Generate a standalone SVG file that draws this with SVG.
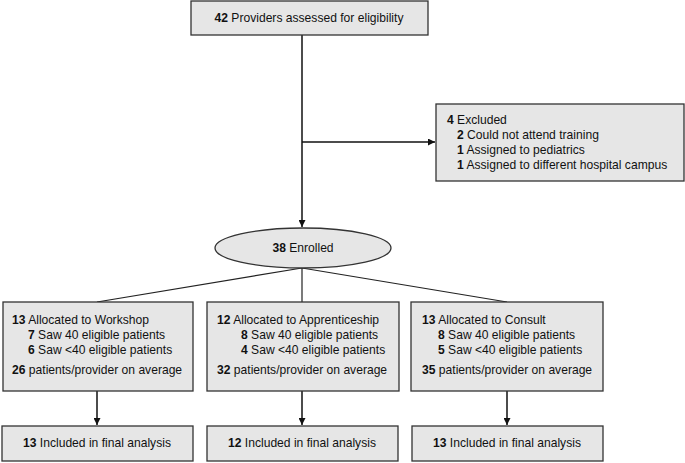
<svg xmlns="http://www.w3.org/2000/svg" width="685" height="463" viewBox="0 0 685 463">
<style>
.box{fill:#e6e6e6;stroke:#333;stroke-width:1.3}
.ln{fill:none;stroke:#222;stroke-width:1.2}
.arr{fill:none;stroke:#111;stroke-width:1.5}
text{font-family:"Liberation Sans",Arial,sans-serif;font-size:12.1px;fill:#111}
.b{font-weight:bold}
.c{text-anchor:middle}
</style>
<defs>
<marker id="ah" viewBox="0 0 10 10" refX="10" refY="5" markerWidth="7" markerHeight="7" markerUnits="userSpaceOnUse" orient="auto">
<path d="M0,0 L10,5 L0,10 z" fill="#111"/>
</marker>
</defs>
<rect width="685" height="463" fill="#fff"/>
<g id="connectors">
<line class="arr" x1="302" y1="35" x2="302" y2="227" marker-end="url(#ah)"/>
<line class="arr" x1="302" y1="142" x2="435" y2="142" marker-end="url(#ah)"/>
<line class="ln" x1="302" y1="268" x2="97" y2="302"/>
<line class="ln" x1="302" y1="268" x2="302" y2="302"/>
<line class="ln" x1="302" y1="268" x2="507" y2="302"/>
<line class="arr" x1="97" y1="391" x2="97" y2="425" marker-end="url(#ah)"/>
<line class="arr" x1="302" y1="391" x2="302" y2="425" marker-end="url(#ah)"/>
<line class="arr" x1="507" y1="391" x2="507" y2="425" marker-end="url(#ah)"/>
</g>
<g id="assessed">
<rect class="box" x="191" y="1" width="237" height="34"/>
<text x="309" y="22" class="c"><tspan class="b">42</tspan> Providers assessed for eligibility</text>
</g>
<g id="excluded">
<rect class="box" x="436" y="104" width="248" height="77"/>
<text x="447" y="124"><tspan class="b">4</tspan> Excluded</text>
<text x="457" y="139"><tspan class="b">2</tspan> Could not attend training</text>
<text x="457" y="154"><tspan class="b">1</tspan> Assigned to pediatrics</text>
<text x="457" y="169"><tspan class="b">1</tspan> Assigned to different hospital campus</text>
</g>
<g id="enrolled">
<ellipse class="box" cx="303" cy="248" rx="88" ry="20"/>
<text x="303" y="252" class="c"><tspan class="b">38</tspan> Enrolled</text>
</g>
<g id="workshop">
<rect class="box" x="3" y="302" width="190" height="89"/>
<text x="12" y="324"><tspan class="b">13</tspan> Allocated to Workshop</text>
<text x="28" y="339"><tspan class="b">7</tspan> Saw 40 eligible patients</text>
<text x="28" y="354"><tspan class="b">6</tspan> Saw &lt;40 eligible patients</text>
<text x="12" y="374"><tspan class="b">26</tspan> patients/provider on average</text>
</g>
<g id="apprenticeship">
<rect class="box" x="207" y="302" width="192" height="89"/>
<text x="217" y="324"><tspan class="b">12</tspan> Allocated to Apprenticeship</text>
<text x="241" y="339"><tspan class="b">8</tspan> Saw 40 eligible patients</text>
<text x="241" y="354"><tspan class="b">4</tspan> Saw &lt;40 eligible patients</text>
<text x="217" y="374"><tspan class="b">32</tspan> patients/provider on average</text>
</g>
<g id="consult">
<rect class="box" x="411" y="302" width="192" height="89"/>
<text x="422" y="324"><tspan class="b">13</tspan> Allocated to Consult</text>
<text x="438" y="339"><tspan class="b">8</tspan> Saw 40 eligible patients</text>
<text x="438" y="354"><tspan class="b">5</tspan> Saw &lt;40 eligible patients</text>
<text x="422" y="374"><tspan class="b">35</tspan> patients/provider on average</text>
</g>
<g id="final-workshop">
<rect class="box" x="2" y="426" width="191" height="35"/>
<text x="97" y="447" class="c"><tspan class="b">13</tspan> Included in final analysis</text>
</g>
<g id="final-apprenticeship">
<rect class="box" x="207" y="426" width="191" height="35"/>
<text x="302" y="447" class="c"><tspan class="b">12</tspan> Included in final analysis</text>
</g>
<g id="final-consult">
<rect class="box" x="412" y="426" width="191" height="35"/>
<text x="507" y="447" class="c"><tspan class="b">13</tspan> Included in final analysis</text>
</g>
</svg>
